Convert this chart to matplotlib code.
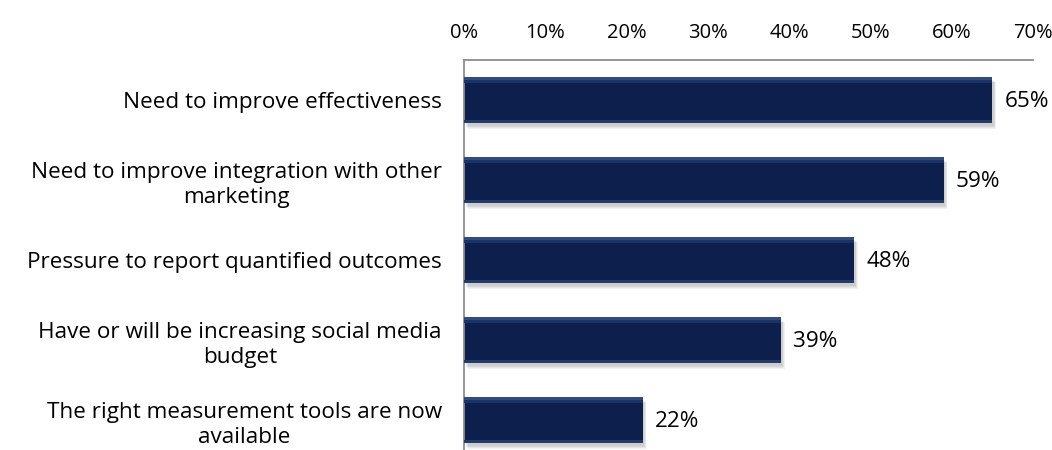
import numpy as np
import matplotlib.pyplot as plt
from matplotlib.ticker import FuncFormatter

categories = [
    "Need to improve effectiveness",
    "Need to improve integration with other\nmarketing",
    "Pressure to report quantified outcomes",
    "Have or will be increasing social media\nbudget",
    "The right measurement tools are now\navailable",
]
values = [65, 59, 48, 39, 22]
ticks = [0, 10, 20, 30, 40, 50, 60, 70]

plt.rcParams['font.family'] = ['Open Sans', 'DejaVu Sans']
fs = 16.2

fig = plt.figure(figsize=(10.52, 4.5), dpi=100)
ax = fig.add_axes([464 / 1052, -10 / 450, (1033 - 464) / 1052, 400 / 450])

y = np.arange(len(values))
h = 0.58

# soft shadow under each bar
for k in range(4):
    ax.barh(y + 0.035 + k * 0.012, values, height=h, left=0.2 + k * 0.08,
            color='#000000', alpha=0.05, zorder=1)

# main bar body with a faint bevel on the top and bottom edges
ax.barh(y, values, height=h, color='#0c1f4d', zorder=2)
ax.barh(y - h / 2 + 0.02, values, height=0.04, color='#2f4c82', zorder=3)
ax.barh(y - h / 2 + 0.06, values, height=0.04, color='#1c3366', zorder=3)
ax.barh(y + h / 2 - 0.02, values, height=0.04, color='#233c6c', zorder=3)

for yi, v in zip(y, values):
    ax.text(v + 1.5, yi + 0.02, f"{v}%", va='center', ha='left', fontsize=fs)

ax.set_xlim(0, 70)
ax.set_ylim(len(values) - 0.5, -0.5)
ax.set_xticks(ticks)
ax.xaxis.set_major_formatter(FuncFormatter(lambda x, p: f"{x:.0f}%"))
ax.xaxis.tick_top()
ax.tick_params(axis='x', length=0, pad=12, labelsize=14.5)
ax.set_yticks(y)
ax.set_yticklabels(categories, fontsize=fs, multialignment='center',
                   linespacing=1.3)
ax.tick_params(axis='y', length=0, pad=16)

for s in ['right', 'bottom']:
    ax.spines[s].set_visible(False)
for s in ['top', 'left']:
    ax.spines[s].set_color('#8c8c8c')
    ax.spines[s].set_linewidth(1.3)

fig.savefig('out.png', dpi=100)
